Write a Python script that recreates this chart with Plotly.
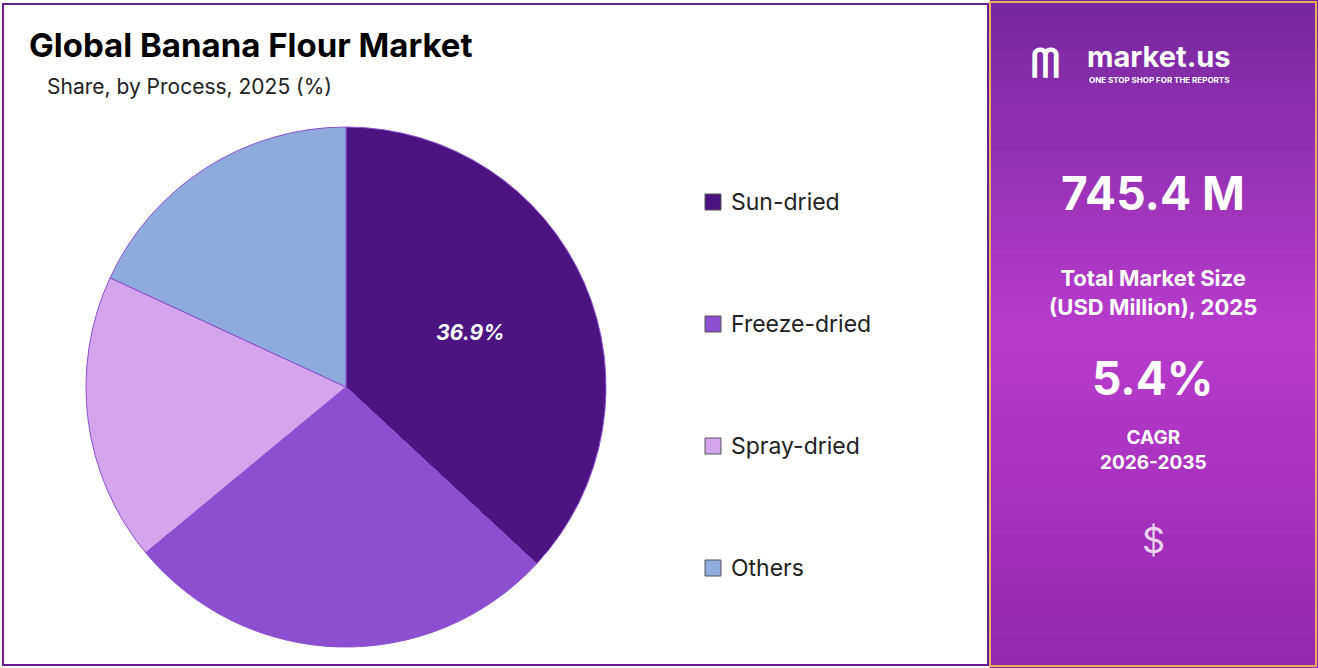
import plotly.graph_objects as go
import numpy as np

labels = ["Sun-dried", "Freeze-dried", "Spray-dried", "Others"]
values = [36.9, 27.1, 17.9, 18.1]
colors = ["#4B1480", "#8B4FD0", "#D4A5EC", "#8FAADC"]
W, H = 1318, 668

def px(x): return x / W
def py(y): return 1 - y / H

texts = [f"<b><i>{values[0]}%</i></b>", "", "", ""]
fig = go.Figure(go.Pie(
    labels=labels, values=values, sort=False, direction="clockwise", rotation=0,
    marker=dict(colors=colors, line=dict(color="#8B4FD0", width=1)),
    text=texts, textinfo="text", textposition="inside", insidetextorientation="horizontal",
    textfont=dict(family="Inter", size=21, color="white"),
    domain=dict(x=[px(86), px(606)], y=[py(647), py(127)]),
    showlegend=False, hoverinfo="label+percent"))

shapes = [dict(type="rect", xref="paper", yref="paper", x0=px(3), x1=px(988), y0=py(665), y1=py(4),
               line=dict(color="#6A1F8F", width=2), fillcolor="rgba(0,0,0,0)")]
n = 40
top = np.array([120, 40, 160]); mid = np.array([185, 60, 205]); bot = np.array([150, 40, 175])
for i in range(n):
    t = i / (n - 1)
    c = top + (mid - top) * min(t * 2, 1) if t < 0.5 else mid + (bot - mid) * (t - 0.5) * 2
    y0 = 668 * i / n; y1 = 668 * (i + 1) / n + 1
    shapes.append(dict(type="rect", xref="paper", yref="paper", x0=px(990), x1=1, y0=py(y1), y1=py(y0),
                       line=dict(width=0), fillcolor=f"rgb({int(c[0])},{int(c[1])},{int(c[2])})", layer="below"))
shapes.append(dict(type="rect", xref="paper", yref="paper", x0=px(990), x1=px(1316), y0=py(666), y1=py(2),
                   line=dict(color="#E8B05A", width=2), fillcolor="rgba(0,0,0,0)"))

ann = [
    dict(x=px(27), y=py(45), text="<b>Global Banana Flour Market</b>", xanchor="left", yanchor="middle",
         showarrow=False, font=dict(family="Inter", size=33, color="black")),
    dict(x=px(45), y=py(87), text="Share, by Process, 2025 (%)", xanchor="left", yanchor="middle",
         showarrow=False, font=dict(family="Inter", size=21, color="#222")),
]
for i, lab in enumerate(labels):
    yc = 202 + 122 * i
    shapes.append(dict(type="rect", xref="paper", yref="paper", x0=px(705), x1=px(721), y0=py(yc + 8), y1=py(yc - 8),
                       fillcolor=colors[i], line=dict(color="#555", width=1)))
    ann.append(dict(x=px(729), y=py(yc), text=lab, xanchor="left", yanchor="middle", showarrow=False,
                    font=dict(family="Inter", size=23, color="#222")))

cx = px(1153)
C = dict(xanchor="center", yanchor="middle", showarrow=False)
ann += [
    dict(x=px(1085), y=py(56), text="<b>market.us</b>", xanchor="left", yanchor="middle", showarrow=False,
         font=dict(family="Inter", size=29, color="white")),
    dict(x=px(1087), y=py(80), text="<b>ONE STOP SHOP FOR THE REPORTS</b>", xanchor="left", yanchor="middle", showarrow=False,
         font=dict(family="Inter", size=8, color="white")),
    dict(x=px(1045), y=py(63), text="<b>ᗰ</b>", font=dict(family="DejaVu Sans", size=40, color="white"), **C),
    dict(x=cx, y=py(193), text="<b>745.4 M</b>", font=dict(family="Inter", size=46, color="white"), **C),
    dict(x=cx, y=py(292), text="<b>Total Market Size<br>(USD Million), 2025</b>",
         font=dict(family="Inter", size=22, color="white"), **C),
    dict(x=cx, y=py(378), text="<b>5.4%</b>", font=dict(family="Inter", size=46, color="white"), **C),
    dict(x=cx, y=py(450), text="<b>CAGR<br>2026-2035</b>", font=dict(family="Inter", size=19, color="white"), **C),
    dict(x=cx, y=py(540), text="$", font=dict(family="Inter", size=36, color="rgba(255,255,255,0.8)"), **C),
]

fig.update_layout(width=W, height=H, margin=dict(l=0, r=0, t=0, b=0), paper_bgcolor="white",
                  plot_bgcolor="white", shapes=shapes, annotations=ann)
fig.write_html("out.html", config={"displayModeBar": False},
               post_script="document.body.style.margin='0';document.body.style.overflow='hidden';")
